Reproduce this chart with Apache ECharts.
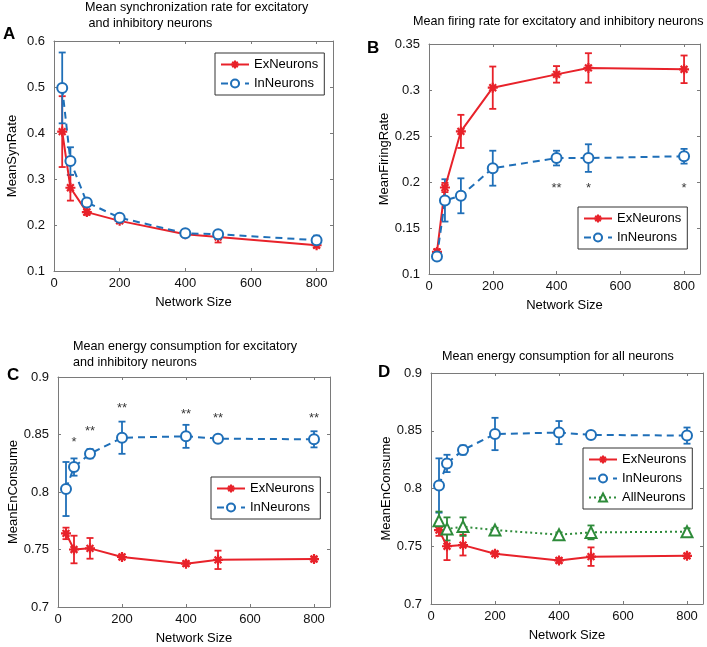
<!DOCTYPE html>
<html>
<head>
<meta charset="utf-8">
<script src="https://cdn.jsdelivr.net/npm/echarts@6/dist/echarts.min.js"></script>
<style>html,body{margin:0;padding:0;background:#fff;}#c{width:707px;height:647px;}</style>
</head>
<body>
<div id="c"></div>
<script>
// ---- data ----
const networkSize = [25, 50, 100, 200, 400, 500, 800];
const xTicks = [0, 200, 400, 600, 800];

const synEx    = [0.403, 0.281, 0.228, 0.209, 0.180, 0.174, 0.156];
const synExErr = [0.077, 0.028, 0.006, 0.005, 0.004, 0.012, 0.005];
const synIn    = [0.498, 0.339, 0.249, 0.216, 0.182, 0.180, 0.167];
const synInErr = [0.077, 0.030, 0.008, 0.005, 0.004, 0.004, 0.010];

const fireEx    = [0.124, 0.194, 0.255, 0.3025, 0.317, 0.324, 0.3225];
const fireExErr = [0.003, 0.005, 0.018, 0.023, 0.009, 0.016, 0.015];
const fireIn    = [0.119, 0.180, 0.185, 0.215, 0.226, 0.226, 0.228];
const fireInErr = [0.003, 0.023, 0.019, 0.019, 0.008, 0.015, 0.008];
const fireStars = [[400, 0.193, '**'], [500, 0.193, '*'], [800, 0.193, '*']];

const enEx    = [0.764, 0.750, 0.751, 0.7435, 0.7377, 0.741, 0.7417];
const enExErr = [0.005, 0.012, 0.009, 0.002, 0.002, 0.008, 0.002];
const enIn    = [0.8026, 0.8217, 0.8333, 0.8472, 0.8484, 0.8464, 0.8458];
const enInErr = [0.0235, 0.0075, 0.004, 0.014, 0.010, 0.001, 0.007];
const enAll    = [0.772, 0.765, 0.767, 0.764, 0.760, 0.762, 0.7626];
const enAllErr = [0.008, 0.010, 0.008, 0.002, 0.002, 0.006, 0.003];
const enStars = [[50, 0.843, '*'], [100, 0.853, '**'], [200, 0.873, '**'], [400, 0.8675, '**'], [500, 0.864, '**'], [800, 0.864, '**']];

// ---- styling ----
const FONT = 'Liberation Sans, Arial, Helvetica, sans-serif';
const RED = '#e8222a', BLUE = '#1f6fb8', GREEN = '#2e8b3a';
const AX = '#7a7a7a';
const STAR = 'path://M5 0 L5 10 M0 5 L10 5 M1.6 1.6 L8.4 8.4 M8.4 1.6 L1.6 8.4';

const grids = [
  {left: 54, top: 41, width: 279, height: 230},
  {left: 429, top: 44, width: 271, height: 230},
  {left: 58, top: 377, width: 272, height: 230},
  {left: 431, top: 373, width: 272, height: 231}
];
const yCfg = [
  {min: 0.1, max: 0.6, interval: 0.1, name: 'MeanSynRate'},
  {min: 0.1, max: 0.35, interval: 0.05, name: 'MeanFiringRate'},
  {min: 0.7, max: 0.9, interval: 0.05, name: 'MeanEnConsume'},
  {min: 0.7, max: 0.9, interval: 0.05, name: 'MeanEnConsume'}
];

const xAxis = [], yAxis = [], series = [];
grids.forEach((g, i) => {
  xAxis.push({
    gridIndex: i, type: 'value', min: 0, max: 850, interval: 200, position: 'bottom',
    name: 'Network Size', nameLocation: 'middle', nameGap: 25,
    nameTextStyle: {fontSize: 13, color: '#000', fontFamily: FONT},
    axisLine: {show: true, onZero: false, lineStyle: {color: AX, width: 1}},
    axisTick: {inside: true, length: 3, lineStyle: {color: AX}},
    axisLabel: {fontSize: 13, color: '#111', fontFamily: FONT, margin: 6, showMaxLabel: false,
      formatter: v => (xTicks.indexOf(v) >= 0 ? String(v) : '')},
    splitLine: {show: false}
  });
  xAxis.push({
    gridIndex: i, type: 'value', min: 0, max: 850, interval: 200, position: 'top',
    axisLine: {show: true, onZero: false, lineStyle: {color: AX, width: 1}},
    axisTick: {inside: true, length: 3, lineStyle: {color: AX}},
    axisLabel: {show: false}, splitLine: {show: false}
  });
  const y = yCfg[i];
  yAxis.push({
    gridIndex: i, type: 'value', min: y.min, max: y.max, interval: y.interval, position: 'left',
    name: y.name, nameLocation: 'middle', nameGap: 35,
    nameTextStyle: {fontSize: 13, color: '#000', fontFamily: FONT},
    axisLine: {show: true, onZero: false, lineStyle: {color: AX, width: 1}},
    axisTick: {show: true, inside: true, length: 3, lineStyle: {color: AX}},
    axisLabel: {fontSize: 13, color: '#111', fontFamily: FONT, margin: 9},
    splitLine: {show: false}
  });
  yAxis.push({
    gridIndex: i, type: 'value', min: y.min, max: y.max, interval: y.interval, position: 'right',
    axisLine: {show: true, onZero: false, lineStyle: {color: AX, width: 1}},
    axisTick: {show: true, inside: true, length: 3, lineStyle: {color: AX}},
    axisLabel: {show: false}, splitLine: {show: false}
  });
});

function errSeries(panel, vals, errs, color) {
  const data = networkSize.map((x, k) => [x, vals[k] - errs[k], vals[k] + errs[k]]);
  return {
    type: 'custom', xAxisIndex: panel * 2, yAxisIndex: panel * 2, z: 3, silent: true,
    data: data, encode: {x: 0, y: [1, 2]},
    renderItem: (params, api) => {
      const x = api.value(0);
      const p1 = api.coord([x, api.value(1)]);
      const p2 = api.coord([x, api.value(2)]);
      const w = 3.5;
      const st = {stroke: color, lineWidth: 1.8};
      return {type: 'group', children: [
        {type: 'line', shape: {x1: p1[0], y1: p1[1], x2: p2[0], y2: p2[1]}, style: st},
        {type: 'line', shape: {x1: p1[0] - w, y1: p1[1], x2: p1[0] + w, y2: p1[1]}, style: st},
        {type: 'line', shape: {x1: p2[0] - w, y1: p2[1], x2: p2[0] + w, y2: p2[1]}, style: st}
      ]};
    }
  };
}
function lineSeries(panel, name, vals, kind) {
  const s = {
    type: 'line', name: name, xAxisIndex: panel * 2, yAxisIndex: panel * 2, z: 4,
    data: networkSize.map((x, k) => [x, vals[k]]), animation: false
  };
  if (kind === 'ex') {
    s.symbol = STAR; s.symbolSize = 10;
    s.lineStyle = {color: RED, width: 2, type: 'solid'};
    s.itemStyle = {color: RED, borderColor: RED, borderWidth: 2.2};
  } else if (kind === 'in') {
    s.symbol = 'emptyCircle'; s.symbolSize = 10;
    s.lineStyle = {color: BLUE, width: 2, type: [7, 5]};
    s.itemStyle = {color: BLUE, borderColor: BLUE, borderWidth: 2};
  } else {
    s.symbol = 'emptyTriangle'; s.symbolSize = 11;
    s.lineStyle = {color: GREEN, width: 2, type: [2, 3]};
    s.itemStyle = {color: GREEN, borderColor: GREEN, borderWidth: 2};
  }
  return s;
}
function starSeries(panel, pts) {
  return {
    type: 'scatter', xAxisIndex: panel * 2, yAxisIndex: panel * 2, symbolSize: 0, silent: true,
    data: pts,
    label: {show: true, position: 'inside', formatter: p => p.data[2], fontSize: 13, color: '#000', fontFamily: FONT}
  };
}

// Panel A
series.push(errSeries(0, synEx, synExErr, RED), errSeries(0, synIn, synInErr, BLUE));
series.push(lineSeries(0, 'ExNeurons', synEx, 'ex'), lineSeries(0, 'InNeurons', synIn, 'in'));
// Panel B
series.push(errSeries(1, fireEx, fireExErr, RED), errSeries(1, fireIn, fireInErr, BLUE));
series.push(lineSeries(1, 'ExNeurons', fireEx, 'ex'), lineSeries(1, 'InNeurons', fireIn, 'in'));
series.push(starSeries(1, fireStars));
// Panel C
series.push(errSeries(2, enEx, enExErr, RED), errSeries(2, enIn, enInErr, BLUE));
series.push(lineSeries(2, 'ExNeurons', enEx, 'ex'), lineSeries(2, 'InNeurons', enIn, 'in'));
series.push(starSeries(2, enStars));
// Panel D
series.push(errSeries(3, enEx, enExErr, RED), errSeries(3, enIn, enInErr, BLUE), errSeries(3, enAll, enAllErr, GREEN));
series.push(lineSeries(3, 'ExNeurons', enEx, 'ex'), lineSeries(3, 'InNeurons', enIn, 'in'), lineSeries(3, 'AllNeurons', enAll, 'all'));

function legendAt(left, top, names) {
  return {
    left: left, top: top, orient: 'vertical', data: names, selectedMode: false,
    itemWidth: 28, itemHeight: 10, itemGap: 6, padding: [5, 6, 5, 5],
    borderColor: '#333', borderWidth: 1, backgroundColor: '#fff',
    textStyle: {fontSize: 13, color: '#000', fontFamily: FONT}
  };
}

const titleStyle = {fontSize: 12.6, fontWeight: 'normal', color: '#000', fontFamily: FONT, lineHeight: 16};
const letterStyle = {fontSize: 17, fontWeight: 'bold', color: '#000', fontFamily: FONT};

const option = {
  animation: false,
  backgroundColor: '#fff',
  title: [
    {text: 'Mean synchronization rate for excitatory\n and inhibitory neurons', left: 85, top: 0, padding: 0, textStyle: titleStyle},
    {text: 'Mean firing rate for excitatory and inhibitory neurons', left: 413, top: 14, padding: 0, textStyle: titleStyle},
    {text: 'Mean energy consumption for excitatory\nand inhibitory neurons', left: 73, top: 339, padding: 0, textStyle: titleStyle},
    {text: 'Mean energy consumption for all neurons', left: 442, top: 349, padding: 0, textStyle: titleStyle},
    {text: 'A', left: 3, top: 26, padding: 0, textStyle: letterStyle},
    {text: 'B', left: 367, top: 40, padding: 0, textStyle: letterStyle},
    {text: 'C', left: 7, top: 367, padding: 0, textStyle: letterStyle},
    {text: 'D', left: 378, top: 364, padding: 0, textStyle: letterStyle}
  ],
  legend: [
    legendAt(215, 53, ['ExNeurons', 'InNeurons']),
    legendAt(578, 207, ['ExNeurons', 'InNeurons']),
    legendAt(211, 477, ['ExNeurons', 'InNeurons']),
    legendAt(583, 448, ['ExNeurons', 'InNeurons', 'AllNeurons'])
  ],
  grid: grids.map(g => Object.assign({containLabel: false}, g)),
  xAxis: xAxis,
  yAxis: yAxis,
  series: series
};

const chart = echarts.init(document.getElementById('c'), null, {renderer: 'canvas'});
chart.setOption(option);
</script>
</body>
</html>
